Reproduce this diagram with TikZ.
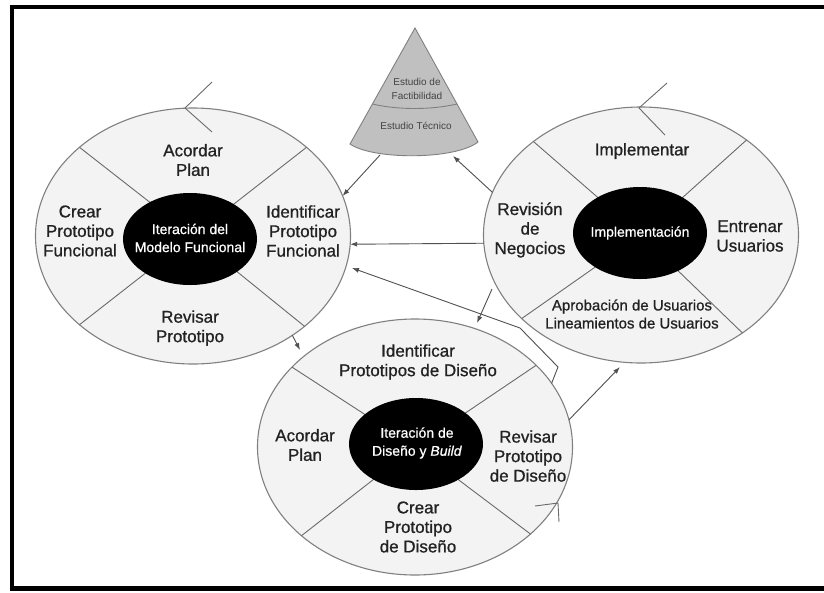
\documentclass[tikz,border=0pt]{standalone}
\usepackage{fontspec}
\setmainfont{Liberation Sans}
\newfontfamily\labfont{Liberation Sans}[FakeBold=0.9]
\newfontfamily\inlabfont{Liberation Sans}[FakeBold=0.7]
\usetikzlibrary{arrows.meta,shapes.geometric}
\definecolor{ellfill}{HTML}{F3F3F3}
\definecolor{ellline}{HTML}{808080}
\definecolor{divcol}{HTML}{6A6A6A}
\definecolor{txt}{HTML}{222222}
\definecolor{conefill}{HTML}{C0C0C0}
\definecolor{conncol}{HTML}{505050}
\begin{document}
\begin{tikzpicture}[x=1pt,y=1pt,
 outerell/.style={ellipse, draw=ellline, fill=ellfill, line width=1.1pt, minimum width=315pt, minimum height=256pt, inner sep=0pt, outer sep=0pt},
 innerell/.style={ellipse, fill=black, minimum width=134pt, minimum height=92pt, inner sep=0pt},
 innertxt/.style={text=white, align=center, inner sep=0pt, font=\inlabfont\fontsize{14}{18}\selectfont},
 divl/.style={draw=divcol, line width=0.9pt},
 lab/.style={text=txt, align=center, inner sep=0pt, font=\labfont\fontsize{17}{19.5}\selectfont},
 conetxt/.style={text=txt!85, align=center, inner sep=0pt, font=\fontsize{10}{13.5}\selectfont},
 connector/.style={draw=conncol, line width=0.9pt, -{Latex[length=7pt,width=5pt]}},
 chev/.style={draw=divcol, line width=0.9pt},
]
\path[use as bounding box] (0,0) rectangle (824,-592);
\fill[white] (0,0) rectangle (824,-592);
% frame (top, left, bottom)
\draw[line width=4.5pt, miter limit=10] (824,-7) -- (12,-7) -- (12,-588.5) -- (824,-588.5);

% outer ellipses
\node[outerell] (L) at (193,-236) {};
\node[outerell] (R) at (641,-235) {};
\node[outerell] (B) at (415,-447) {};

% radial dividers
\foreach \a in {142.6,38.7,218.8,321.2} \draw[divl] (L.center) -- (L.\a);
\foreach \a in {139.9,42.7,215.2,316.5} \draw[divl] (R.center) -- (R.\a);
\foreach \a in {147,34,218.2,323.3} \draw[divl] (B.center) -- (B.\a);

% inner black ellipses
\node[innerell] (Li) at (190,-239) {};
\node[innerell] (Ri) at (640,-233) {};
\node[innerell] (Bi) at (416,-444) {};
\node[innertxt] (Lt) at (190,-238) {Iteración del\\Modelo Funcional};
\node[innertxt] (Rt) at (640,-233) {Implementación};
\node[innertxt] (Bt) at (417,-443) {Iteración de\\Diseño y \textit{Build}};

% labels left
\node[lab] (l1) at (193,-160) {Acordar\\Plan};
\node[lab] (l2) at (80,-231) {Crear\\Prototipo\\Funcional};
\node[lab] (l3) at (303,-231) {Identificar\\Prototipo\\Funcional};
\node[lab] (l4) at (190,-328) {Revisar\\Prototipo};
% labels right
\node[lab] (r1) at (642,-151) {Implementar};
\node[lab] (r2) at (530,-230) {Revisión\\de\\Negocios};
\node[lab] (r3) at (750,-236) {Entrenar\\Usuarios};
\node[lab, font=\labfont\fontsize{15}{18}\selectfont] (r4) at (632,-314) {Aprobación de Usuarios\\Lineamientos de Usuarios};
% labels bottom
\node[lab] (b1) at (418,-362) {Identificar\\Prototipos de Diseño};
\node[lab] (b2) at (305,-445) {Acordar\\Plan};
\node[lab] (b3) at (528,-456) {Revisar\\Prototipo\\de Diseño};
\node[lab] (b4) at (418,-527) {Crear\\Prototipo\\de Diseño};

% cone
\filldraw[fill=conefill, draw=ellline, line width=0.9pt]
  (350,-144) -- (415,-28) -- (478,-142) .. controls (455,-160) and (373,-160) .. (350,-144) -- cycle;
\draw[draw=ellline, line width=0.9pt] (372.4,-104) .. controls (398,-110) and (431,-110) .. (457,-104);
\node[conetxt] (c1) at (417,-89) {Estudio de\\Factibilidad};
\node[conetxt] (c2) at (416,-126) {Estudio Técnico};
\coordinate (coneL) at (380,-155);
\coordinate (coneR) at (453,-156);

% connector points
\coordinate (k1) at (558,-367);
\coordinate (k2) at (520,-328);
\coordinate (t4) at (352,-268);
\coordinate (s5) at (492,-289);
\coordinate (t5) at (477,-323);
\coordinate (t6) at (300,-350);
\coordinate (t7) at (620,-367);

\draw[connector] (coneL) -- (L.15.8);
\draw[connector] (R.164.3) -- (coneR);
\draw[connector] (R.183.6) -- (L.-3.3);
\draw[connector] (B.25.6) -- (k1) -- (k2) -- (t4);
\draw[connector] (s5) -- (t5);
\draw[connector] (L.-45.6) -- (t6);
\draw[connector] (B.10.4) -- (t7);

% cycle chevrons
\draw[chev] (212,-82) -- (185,-108) -- (212,-132);
\draw[chev] (667,-83) -- (639,-108) -- (665,-135);
\draw[chev] (535,-506) -- (558,-503) -- (559,-522);
\end{tikzpicture}
\end{document}
